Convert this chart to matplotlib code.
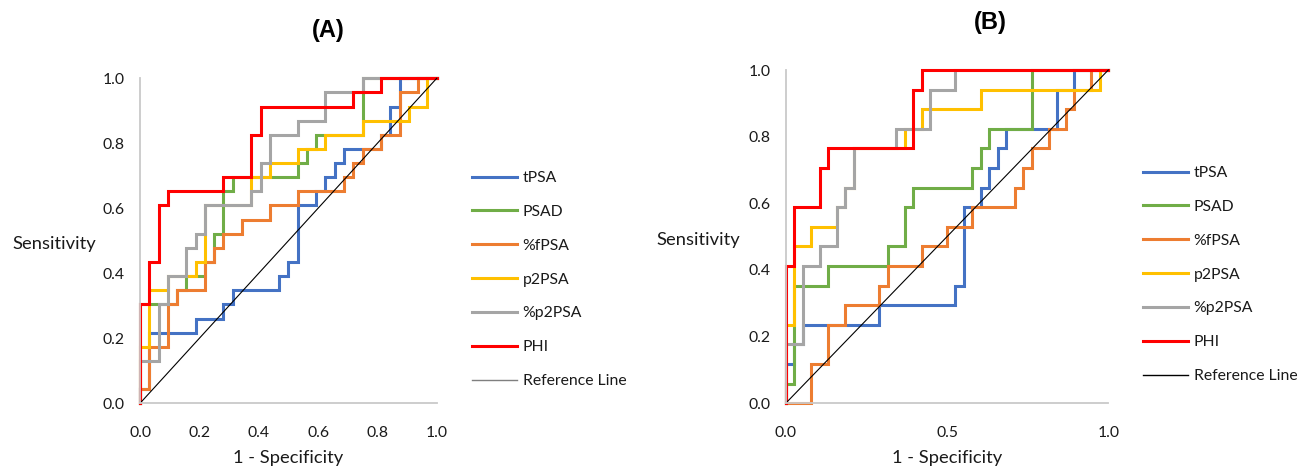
import numpy as np
import matplotlib
matplotlib.use("Agg")
import matplotlib.pyplot as plt

plt.rcParams['font.family'] = ['Lato', 'DejaVu Sans']

# ---------------- data (ROC step corners, counts) ----------------
series_names = ["tPSA", "PSAD", "%fPSA", "p2PSA", "%p2PSA", "PHI"]
series_colors = ["#4472C4", "#70AD47", "#ED7D31", "#FFC000", "#A5A5A5", "#FF0000"]

# Panel A: 32 negatives, 23 positives
A_n_neg = 32
A_n_pos = 23
A_tPSA_fp = [0, 1, 6, 9, 10, 15, 16, 17, 19, 20, 21, 22, 26, 27, 28, 32]
A_tPSA_tp = [0, 1, 5, 6, 7, 8, 9, 10, 14, 15, 16, 17, 18, 19, 21, 23]
A_PSAD_fp = [0, 4, 5, 7, 8, 9, 10, 17, 18, 19, 24, 32]
A_PSAD_tp = [0, 7, 8, 9, 10, 12, 15, 16, 17, 18, 19, 23]
A_fPSA_fp = [0, 1, 3, 4, 7, 8, 9, 11, 14, 17, 22, 23, 24, 26, 28, 30, 32]
A_fPSA_tp = [0, 1, 4, 7, 8, 10, 11, 12, 13, 14, 15, 16, 17, 18, 19, 22, 23]
A_p2PSA_fp = [0, 1, 3, 6, 7, 12, 14, 17, 20, 24, 29, 31, 32]
A_p2PSA_tp = [0, 4, 8, 9, 10, 14, 16, 17, 18, 19, 20, 21, 23]
A_pp2PSA_fp = [0, 2, 3, 5, 6, 7, 12, 13, 14, 17, 20, 24, 32]
A_pp2PSA_tp = [0, 3, 7, 9, 11, 12, 14, 15, 17, 19, 20, 22, 23]
A_PHI_fp = [0, 1, 2, 3, 9, 12, 13, 23, 26, 32]
A_PHI_tp = [0, 7, 10, 14, 15, 16, 19, 21, 22, 23]

# Panel B: 38 negatives, 17 positives
B_n_neg = 38
B_n_pos = 17
B_tPSA_fp = [0, 1, 2, 11, 20, 21, 23, 24, 25, 26, 32, 34, 38]
B_tPSA_tp = [0, 2, 3, 4, 5, 6, 10, 11, 12, 13, 14, 16, 17]
B_PSAD_fp = [0, 1, 5, 12, 14, 15, 22, 23, 24, 29, 38]
B_PSAD_tp = [0, 1, 6, 7, 8, 10, 11, 12, 13, 14, 17]
B_fPSA_fp = [0, 3, 5, 7, 11, 12, 16, 19, 22, 27, 28, 29, 31, 33, 34, 36, 38]
B_fPSA_tp = [0, 0, 2, 4, 5, 6, 7, 8, 9, 10, 11, 12, 13, 14, 15, 16, 17]
B_p2PSA_fp = [0, 1, 3, 6, 7, 8, 14, 16, 23, 37, 38]
B_p2PSA_tp = [0, 4, 8, 9, 10, 11, 13, 14, 15, 16, 17]
B_pp2PSA_fp = [0, 2, 4, 6, 7, 8, 13, 17, 20, 38]
B_pp2PSA_tp = [0, 3, 7, 8, 10, 11, 13, 14, 16, 17]
B_PHI_fp = [0, 1, 4, 5, 15, 16, 38]
B_PHI_tp = [0, 7, 10, 12, 13, 16, 17]

ref_x = [0.0, 1.0]
ref_y = [0.0, 1.0]

A_ticks_x = [0.0, 0.2, 0.4, 0.6, 0.8, 1.0]
A_ticks_y = [0.0, 0.2, 0.4, 0.6, 0.8, 1.0]
B_ticks_x = [0.0, 0.5, 1.0]
B_ticks_y = [0.0, 0.2, 0.4, 0.6, 0.8, 1.0]

A_curves = [(A_tPSA_fp, A_tPSA_tp), (A_PSAD_fp, A_PSAD_tp), (A_fPSA_fp, A_fPSA_tp),
            (A_p2PSA_fp, A_p2PSA_tp), (A_pp2PSA_fp, A_pp2PSA_tp), (A_PHI_fp, A_PHI_tp)]
B_curves = [(B_tPSA_fp, B_tPSA_tp), (B_PSAD_fp, B_PSAD_tp), (B_fPSA_fp, B_fPSA_tp),
            (B_p2PSA_fp, B_p2PSA_tp), (B_pp2PSA_fp, B_pp2PSA_tp), (B_PHI_fp, B_PHI_tp)]

W, H = 1311, 468
fig = plt.figure(figsize=(W / 100, H / 100), dpi=100)

TEXT = "#1a1a1a"
SPINE = "#C9C9C9"


def panel(rect, curves, n_neg, n_pos, xt, yt, title, title_xy, ylab_x, xlab_y, leg_xy, ref_col):
    ax = fig.add_axes(rect)
    for (fp, tp), name, col in zip(curves, series_names, series_colors):
        ax.plot(np.array(fp) / n_neg, np.array(tp) / n_pos, drawstyle="steps-pre",
                color=col, lw=2.2, label=name, clip_on=False, solid_joinstyle="miter")
    ax.plot(ref_x, ref_y, color="black", lw=0.8, clip_on=False)
    ax.plot([], [], color=ref_col, lw=1.0, label="Reference Line")
    ax.set_xlim(0, 1)
    ax.set_ylim(0, 1)
    ax.set_xticks(xt)
    ax.set_yticks(yt)
    ax.set_xticklabels([f"{v:.1f}" for v in xt])
    ax.set_yticklabels([f"{v:.1f}" for v in yt])
    ax.tick_params(axis="both", length=0, labelsize=11.3, colors=TEXT)
    ax.tick_params(axis="x", pad=16)
    ax.tick_params(axis="y", pad=11)
    for s in ["top", "right"]:
        ax.spines[s].set_visible(False)
    for s in ["left", "bottom"]:
        ax.spines[s].set_color(SPINE)
        ax.spines[s].set_linewidth(1.3)
    ax.set_xlabel("1 - Specificity", fontsize=13.2, color=TEXT)
    ax.xaxis.set_label_coords(0.5, xlab_y)
    ax.xaxis.label.set_va("center")
    ax.set_ylabel("Sensitivity", fontsize=13.2, color=TEXT, rotation=0)
    ax.yaxis.set_label_coords(ylab_x, 0.49)
    ax.yaxis.label.set_va("center")
    ax.yaxis.label.set_ha("center")
    fig.text(title_xy[0], title_xy[1], title, fontsize=17, fontweight="bold",
             family="Liberation Sans", ha="center", va="center", color="black")
    leg = ax.legend(loc="upper left", bbox_to_anchor=leg_xy, bbox_transform=fig.transFigure,
                    frameon=False, borderpad=0, borderaxespad=0, handlelength=2.87,
                    handletextpad=0.38, labelspacing=1.265, fontsize=11.3)
    for t in leg.get_texts():
        t.set_color(TEXT)
    return ax


# Panel A
axA = panel([140 / W, 1 - 403.3 / H, 296.7 / W, 325 / H], A_curves, A_n_neg, A_n_pos,
            A_ticks_x, A_ticks_y, "(A)", (328 / W, 1 - 30 / H), -0.29, -0.168,
            (471.7 / W, 1 - 171 / H), "#7F7F7F")
# Panel B
axB = panel([785.7 / W, 1 - 403.3 / H, 322.6 / W, 333.3 / H], B_curves, B_n_neg, B_n_pos,
            B_ticks_x, B_ticks_y, "(B)", (990 / W, 1 - 22 / H), -0.272, -0.164,
            (1142.7 / W, 1 - 166 / H), "black")

fig.savefig("out.png", dpi=100)
